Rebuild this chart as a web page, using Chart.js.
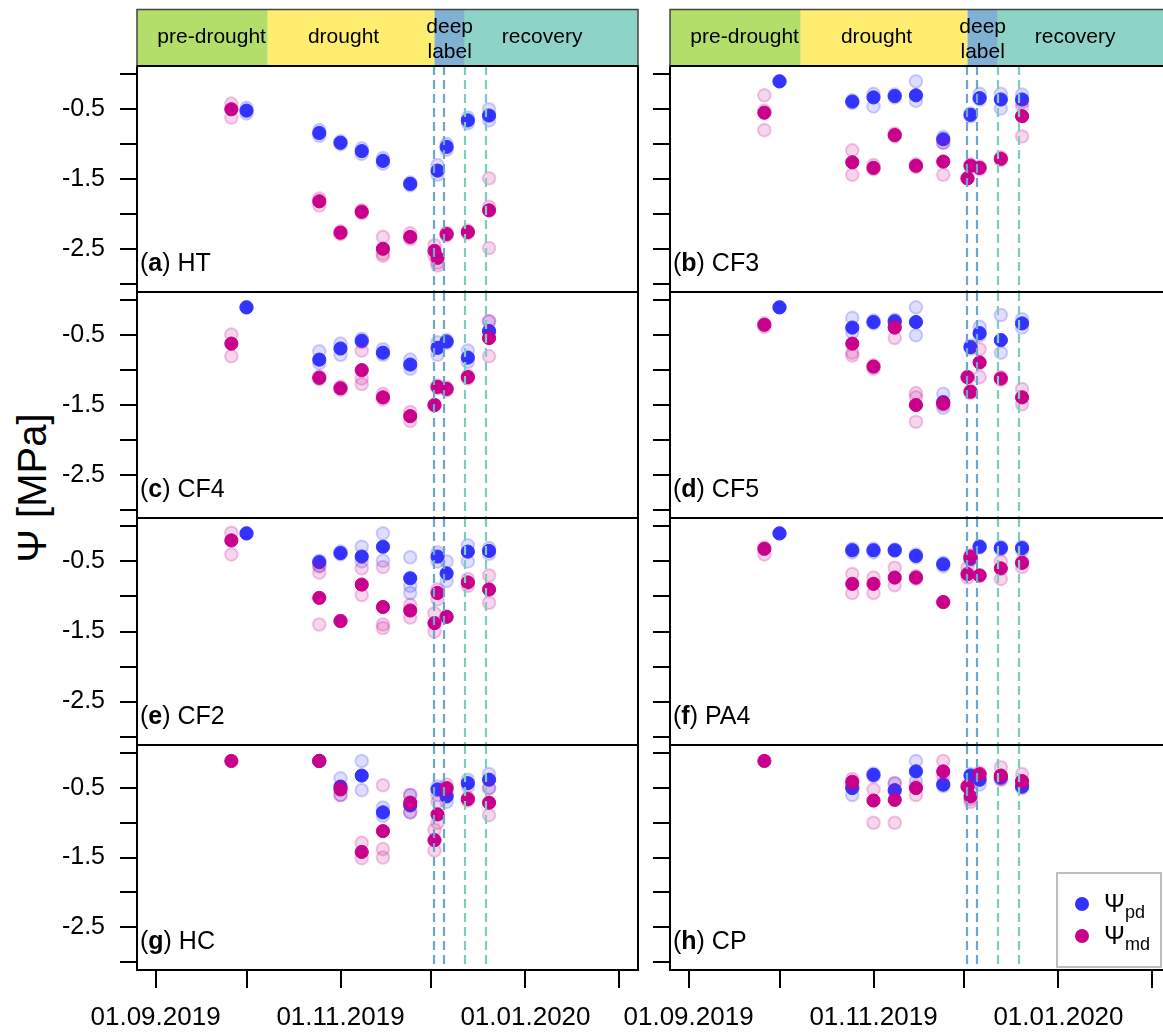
<!DOCTYPE html>
<html>
<head>
<meta charset="utf-8">
<script src="https://cdn.jsdelivr.net/npm/chart.js@4.4.0/dist/chart.umd.min.js"></script>
<style>
  body { margin: 0; background: #fff; overflow: hidden; }
  #fig { position: relative; width: 1163px; height: 1035px; overflow: hidden; font-family: "Liberation Sans", Arial, sans-serif; }
  #fig canvas { position: absolute; }
  #ytitle { position: absolute; left: 32px; top: 488px; transform: translate(-50%, -50%) rotate(-90deg);
            font-size: 40px; line-height: 1; white-space: nowrap; color: #000; }
</style>
</head>
<body>
<div id="fig"><div id="ytitle">Ψ [MPa]</div></div>
<script>
// days since 01.09.2019
const pdDays = [30, 54, 61, 68, 75, 84, 93, 96, 103, 110];
const mdDays = [25, 54, 61, 68, 75, 84, 92, 93, 96, 103, 110];

const monthTickDays = [0, 30, 61, 91, 122, 153];
const monthTickLabels = ['01.09.2019', '', '01.11.2019', '', '01.01.2020', ''];
const yTickValues = [0, -0.5, -1, -1.5, -2, -2.5, -3];
const yTickLabels = ['', '-0.5', '', '-1.5', '', '-2.5', ''];

const phaseNames = ['pre-drought', 'drought', 'deep\nlabel', 'recovery'];
const phaseBounds = [37, 92, 102];
const phaseLabelDays = [18.5, 62, 97, 127.5];
const vlineDays = [92, 95, 102, 109];

const panelLetters = ['a', 'b', 'c', 'd', 'e', 'f', 'g', 'h'];
const panelSites = ['HT', 'CF3', 'CF4', 'CF5', 'CF2', 'PA4', 'HC', 'CP'];

// HT
const htPd = [-0.52, -0.84, -0.98, -1.10, -1.24, -1.57, -1.38, -1.04, -0.66, -0.59];
const htPdTrees = [[-0.48, -0.56], [-0.80, -0.88], [-0.96, -1.00], [-1.06, -1.14], [-1.20, -1.28], [-1.55, -1.59], [-1.30, -1.44], [-1.00, -1.08], [-0.62, -0.70], [-0.50, -0.66]];
const htMd = [-0.50, -1.82, -2.27, -1.97, -2.50, -2.33, -2.53, -2.63, -2.29, -2.26, -1.95];
const htMdTrees = [[-0.42, -0.62], [-1.78, -1.88], [-2.25, -2.29], [-1.95, -1.99], [-2.33, -2.57, -2.60], [-2.28, -2.36], [-2.45, -2.60], [-2.70, -2.74], [-2.27, -2.31], [-2.24, -2.28], [-1.49, -1.90, -2.49]];
// CF3
const cf3Pd = [-0.10, -0.39, -0.33, -0.31, -0.30, -0.93, -0.58, -0.34, -0.36, -0.36];
const cf3PdTrees = [[-0.10], [-0.37, -0.41], [-0.28, -0.46], [-0.29, -0.33], [-0.10, -0.38], [-0.90, -0.98], [-0.56, -0.60], [-0.28, -0.36], [-0.28, -0.49], [-0.29, -0.40]];
const cf3Md = [-0.55, -1.26, -1.34, -0.87, -1.31, -1.25, -1.49, -1.31, -1.34, -1.21, -0.60];
const cf3MdTrees = [[-0.30, -0.52, -0.80], [-1.09, -1.44], [-1.30, -1.36], [-0.85, -0.89], [-1.29, -1.33], [-0.98, -1.44], [-1.49], [-1.29, -1.33], [-1.32, -1.36], [-1.19, -1.23], [-0.46, -0.89]];
// CF4
const cf4Pd = [-0.10, -0.85, -0.69, -0.58, -0.75, -0.92, -0.68, -0.59, -0.82, -0.44];
const cf4PdTrees = [[-0.10], [-0.73, -0.90], [-0.62, -0.78], [-0.55, -0.60], [-0.70, -0.78], [-0.85, -0.98], [-0.60, -0.78], [-0.57, -0.61], [-0.72, -0.88], [-0.30, -0.46]];
const cf4Md = [-0.62, -1.11, -1.26, -1.00, -1.39, -1.66, -1.50, -1.24, -1.27, -1.10, -0.54];
const cf4MdTrees = [[-0.49, -0.80], [-1.09, -1.13], [-1.24, -1.28], [-0.72, -1.12, -1.20], [-1.34, -1.42], [-1.60, -1.73], [-1.50], [-1.22, -1.26], [-1.25, -1.29], [-1.08, -1.12], [-0.30, -0.80]];
// CF5
const cf5Pd = [-0.10, -0.39, -0.31, -0.30, -0.31, -1.46, -0.67, -0.47, -0.57, -0.33];
const cf5PdTrees = [[-0.10], [-0.25, -0.46], [-0.29, -0.33], [-0.28, -0.32], [-0.10, -0.50], [-1.34, -1.54], [-0.65, -0.69], [-0.38, -0.50], [-0.21, -0.75], [-0.27, -0.39]];
const cf5Md = [-0.35, -0.62, -0.95, -0.39, -1.50, -1.48, -1.10, -1.31, -0.89, -1.12, -1.39];
const cf5MdTrees = [[-0.33, -0.38], [-0.75, -0.79], [-0.93, -0.98], [-0.37, -0.54], [-1.33, -1.39, -1.74], [-1.46, -1.50], [-1.10], [-1.29, -1.33], [-0.70, -1.10], [-1.10, -1.14], [-1.27, -1.49]];
// CF2
const cf2Pd = [-0.10, -0.51, -0.38, -0.43, -0.29, -0.74, -0.43, -0.67, -0.36, -0.35];
const cf2PdTrees = [[-0.10], [-0.49, -0.56], [-0.36, -0.40], [-0.29, -0.50], [-0.10, -0.49], [-0.44, -0.85, -0.95], [-0.37, -0.50], [-0.50, -0.78], [-0.27, -0.50], [-0.31, -0.39]];
const cf2Md = [-0.20, -1.02, -1.35, -0.83, -1.15, -1.20, -1.38, -0.95, -1.29, -0.80, -0.90];
const cf2MdTrees = [[-0.09, -0.40], [-0.57, -0.66, -1.40], [-1.35], [-0.60, -0.98], [-0.58, -1.40, -1.45], [-1.12, -1.30], [-1.24, -1.50], [-0.90, -1.04], [-1.29], [-0.75, -0.85], [-0.70, -1.09]];
// PA4
const pa4Pd = [-0.10, -0.34, -0.34, -0.34, -0.42, -0.54, -0.46, -0.29, -0.31, -0.31];
const pa4PdTrees = [[-0.10], [-0.32, -0.37], [-0.32, -0.37], [-0.33, -0.35], [-0.40, -0.44], [-0.52, -0.57], [-0.44, -0.48], [-0.28, -0.30], [-0.29, -0.33], [-0.29, -0.34]];
const pa4Md = [-0.32, -0.82, -0.82, -0.73, -0.73, -1.08, -0.68, -0.43, -0.70, -0.60, -0.52];
const pa4MdTrees = [[-0.30, -0.40], [-0.68, -0.95], [-0.73, -0.95], [-0.59, -0.84], [-0.71, -0.75], [-1.08], [-0.59, -0.73], [-0.41, -0.45], [-0.70], [-0.50, -0.75], [-0.50, -0.58]];
// HC
const hcPd = [null, -0.11, -0.48, -0.32, -0.85, -0.75, -0.52, -0.62, -0.43, -0.38];
const hcPdTrees = [[], [-0.11], [-0.36, -0.60], [-0.11, -0.53], [-0.78, -0.90], [-0.60, -0.85], [-0.48, -0.60], [-0.60, -0.70], [-0.38, -0.48], [-0.30, -0.50]];
const hcMd = [-0.11, -0.11, -0.52, -1.42, -1.12, -0.71, -1.25, -0.88, -0.50, -0.66, -0.71];
const hcMdTrees = [[], [], [-0.48, -0.60], [-1.29, -1.51], [-0.46, -1.38, -1.50], [-0.60, -0.85], [-1.10, -1.40], [-0.70, -1.00], [-0.45, -0.55], [-0.64, -0.68], [-0.50, -0.89]];
// CP
const cpPd = [null, -0.50, -0.31, -0.53, -0.26, -0.45, -0.32, -0.38, -0.35, -0.48];
const cpPdTrees = [[], [-0.48, -0.60], [-0.29, -0.33], [-0.43, -0.55], [-0.11, -0.40], [-0.43, -0.47], [-0.30, -0.43], [-0.36, -0.45], [-0.33, -0.37], [-0.46, -0.50]];
const cpMd = [-0.11, -0.41, -0.68, -0.67, -0.50, -0.26, -0.48, -0.62, -0.30, -0.32, -0.40];
const cpMdTrees = [[], [-0.37, -0.45], [-0.52, -1.00], [-0.43, -1.00], [-0.48, -0.60], [-0.11, -0.33], [-0.46], [-0.66, -0.70], [-0.28], [-0.20, -0.38], [-0.30, -0.45]];

const siteSeries = [
  [htPd, htPdTrees, htMd, htMdTrees],
  [cf3Pd, cf3PdTrees, cf3Md, cf3MdTrees],
  [cf4Pd, cf4PdTrees, cf4Md, cf4MdTrees],
  [cf5Pd, cf5PdTrees, cf5Md, cf5MdTrees],
  [cf2Pd, cf2PdTrees, cf2Md, cf2MdTrees],
  [pa4Pd, pa4PdTrees, pa4Md, pa4MdTrees],
  [hcPd, hcPdTrees, hcMd, hcMdTrees],
  [cpPd, cpPdTrees, cpMd, cpMdTrees]
];

// layout (px)
const FONT = '"Liberation Sans", Arial, sans-serif';
const boxLeft = [137, 670], boxRight = [638, 1171];
const canvasLeft = [0, 600], canvasRight = [650, 1180];
const rowTop = [66, 292, 518, 745], rowBottom = [292, 518, 745, 970];
const X_MIN = -6.12, X_MAX = 159.12;

const BLUE = '#3333FF', MAGENTA = '#C8008C';
const phaseColors = ['#B3DE69', '#FFED6F', '#80B1D3', '#8DD3C7'];
const vlineColors = ['#6FA6CF', '#6FA6CF', '#7CCDBE', '#7CCDBE'];

function meanPoints(days, vals) {
  return days.map((d, i) => vals[i] == null ? null : { x: d, y: vals[i] }).filter(Boolean);
}
function treePoints(days, trees) {
  const out = [];
  days.forEach((d, i) => (trees[i] || []).forEach(v => out.push({ x: d, y: v })));
  return out;
}

const panelDecor = {
  id: 'panelDecor',
  afterDatasetsDraw(chart) {
    const { ctx, chartArea: a, scales: { x } } = chart;
    ctx.save();
    ctx.lineWidth = 2.2;
    ctx.setLineDash([9, 5]);
    vlineDays.forEach((d, i) => {
      const px = Math.round(x.getPixelForValue(d));
      ctx.strokeStyle = vlineColors[i];
      ctx.beginPath();
      ctx.moveTo(px, a.top);
      ctx.lineTo(px, a.bottom);
      ctx.stroke();
    });
    ctx.restore();
  },
  afterDraw(chart, args, opts) {
    const { ctx, chartArea: a, scales: { x } } = chart;
    ctx.save();
    ctx.strokeStyle = '#000';
    ctx.lineWidth = 2;
    ctx.strokeRect(a.left, a.top, a.right - a.left, a.bottom - a.top);

    // panel label "(a) HT"
    ctx.fillStyle = '#000';
    ctx.textBaseline = 'alphabetic';
    ctx.textAlign = 'left';
    let tx = a.left + 3;
    const ty = a.bottom - 21;
    ctx.font = '25px ' + FONT;
    ctx.fillText('(', tx, ty); tx += ctx.measureText('(').width;
    ctx.font = 'bold 25px ' + FONT;
    ctx.fillText(opts.letter, tx, ty); tx += ctx.measureText(opts.letter).width;
    ctx.font = '25px ' + FONT;
    ctx.fillText(') ' + opts.site, tx, ty);

    if (opts.strip) {
      const top = 9.5, bottom = a.top;
      const edges = [X_MIN].concat(phaseBounds, [X_MAX]).map(d => x.getPixelForValue(d));
      for (let i = 0; i < 4; i++) {
        ctx.fillStyle = phaseColors[i];
        ctx.fillRect(edges[i], top, edges[i + 1] - edges[i], bottom - top);
      }
      ctx.strokeStyle = '#444';
      ctx.lineWidth = 1.5;
      ctx.strokeRect(a.left, top, a.right - a.left, bottom - top);
      ctx.strokeStyle = '#000';
      ctx.lineWidth = 2;
      ctx.beginPath(); ctx.moveTo(a.left, bottom); ctx.lineTo(a.right, bottom); ctx.stroke();
      ctx.fillStyle = '#000';
      ctx.textAlign = 'center';
      ctx.font = '21px ' + FONT;
      phaseNames.forEach((name, i) => {
        const cx = x.getPixelForValue(phaseLabelDays[i]);
        const lines = name.split('\n');
        if (lines.length === 1) ctx.fillText(name, cx, 43);
        else { ctx.fillText(lines[0], cx, 33); ctx.fillText(lines[1], cx, 58); }
      });
    }

    if (opts.legend) {
      const lx = a.right - 114, ly = a.bottom - 97, lw = 104, lh = 94;
      ctx.fillStyle = '#fff';
      ctx.fillRect(lx, ly, lw, lh);
      ctx.strokeStyle = '#BEBEBE';
      ctx.lineWidth = 2;
      ctx.strokeRect(lx, ly, lw, lh);
      [[BLUE, 'pd'], [MAGENTA, 'md']].forEach(([col, sub], i) => {
        const cy = ly + 31 + i * 32;
        ctx.fillStyle = col;
        ctx.beginPath(); ctx.arc(lx + 25, cy, 7, 0, Math.PI * 2); ctx.fill();
        ctx.fillStyle = '#000';
        ctx.textAlign = 'left';
        ctx.font = '25px ' + FONT;
        ctx.fillText('Ψ', lx + 47, cy + 8);
        ctx.font = '18px ' + FONT;
        ctx.fillText(sub, lx + 68, cy + 14);
      });
    }
    ctx.restore();
  }
};

const fig = document.getElementById('fig');

panelLetters.forEach((letter, p) => {
  const col = p % 2, row = Math.floor(p / 2);
  const [pdMean, pdTrees, mdMean, mdTrees] = siteSeries[p];
  const cTop = row === 0 ? 0 : rowTop[row] - 10;
  const cBottom = row === 3 ? 1035 : rowBottom[row] + 10;
  const cLeft = canvasLeft[col];
  const cw = canvasRight[col] - cLeft, ch = cBottom - cTop;

  const canvas = document.createElement('canvas');
  canvas.width = cw; canvas.height = ch;
  canvas.style.left = cLeft + 'px'; canvas.style.top = cTop + 'px';
  canvas.style.width = cw + 'px'; canvas.style.height = ch + 'px';
  fig.appendChild(canvas);

  const isBottom = row === 3;
  new Chart(canvas.getContext('2d'), {
    type: 'scatter',
    data: {
      datasets: [
        { data: treePoints(pdDays, pdTrees), order: 4, pointRadius: 6.3, pointBorderWidth: 2,
          backgroundColor: 'rgba(51,51,255,0.16)', borderColor: 'rgba(51,51,255,0.22)' },
        { data: meanPoints(pdDays, pdMean), order: 3, pointRadius: 6.6, pointBorderWidth: 1,
          backgroundColor: BLUE, borderColor: BLUE },
        { data: treePoints(mdDays, mdTrees), order: 2, pointRadius: 6.3, pointBorderWidth: 2,
          backgroundColor: 'rgba(200,0,140,0.16)', borderColor: 'rgba(200,0,140,0.22)' },
        { data: meanPoints(mdDays, mdMean), order: 1, pointRadius: 6.6, pointBorderWidth: 1,
          backgroundColor: MAGENTA, borderColor: MAGENTA }
      ]
    },
    options: {
      responsive: false,
      animation: false,
      events: [],
      layout: {
        padding: {
          top: rowTop[row] - cTop,
          bottom: isBottom ? 0 : cBottom - rowBottom[row],
          left: 0,
          right: canvasRight[col] - boxRight[col]
        }
      },
      scales: {
        x: {
          type: 'linear', min: X_MIN, max: X_MAX,
          display: isBottom,
          border: { display: false },
          grid: { drawOnChartArea: false, drawTicks: true, tickLength: 18, color: '#000', lineWidth: 2 },
          ticks: {
            autoSkip: false, maxRotation: 0, minRotation: 0, padding: 14, color: '#000',
            font: { family: FONT, size: 26 },
            callback: (v) => { const i = monthTickDays.indexOf(v); return i < 0 ? '' : monthTickLabels[i]; }
          },
          afterBuildTicks: (axis) => { axis.ticks = monthTickDays.map(v => ({ value: v })); },
          afterFit: (axis) => {
            axis.height = isBottom ? 1035 - rowBottom[3] : 0;
            axis.paddingLeft = 0; axis.paddingRight = 0;
          }
        },
        y: {
          type: 'linear', min: -3.12, max: 0.12,
          border: { display: false },
          grid: { drawOnChartArea: false, drawTicks: true, tickLength: 17, color: '#000', lineWidth: 2 },
          ticks: {
            autoSkip: false, padding: 15, color: '#000',
            font: { family: FONT, size: 25 },
            callback: (v) => { if (col === 1) return ''; const i = yTickValues.indexOf(v); return i < 0 ? '' : yTickLabels[i]; }
          },
          afterBuildTicks: (axis) => { axis.ticks = yTickValues.map(v => ({ value: v })); },
          afterFit: (axis) => { axis.width = boxLeft[col] - cLeft; axis.paddingTop = 0; axis.paddingBottom = 0; }
        }
      },
      plugins: {
        legend: { display: false },
        tooltip: { enabled: false },
        panelDecor: { letter: letter, site: panelSites[p], strip: row === 0, legend: p === 7 }
      }
    },
    plugins: [panelDecor]
  });
});
</script>
</body>
</html>
